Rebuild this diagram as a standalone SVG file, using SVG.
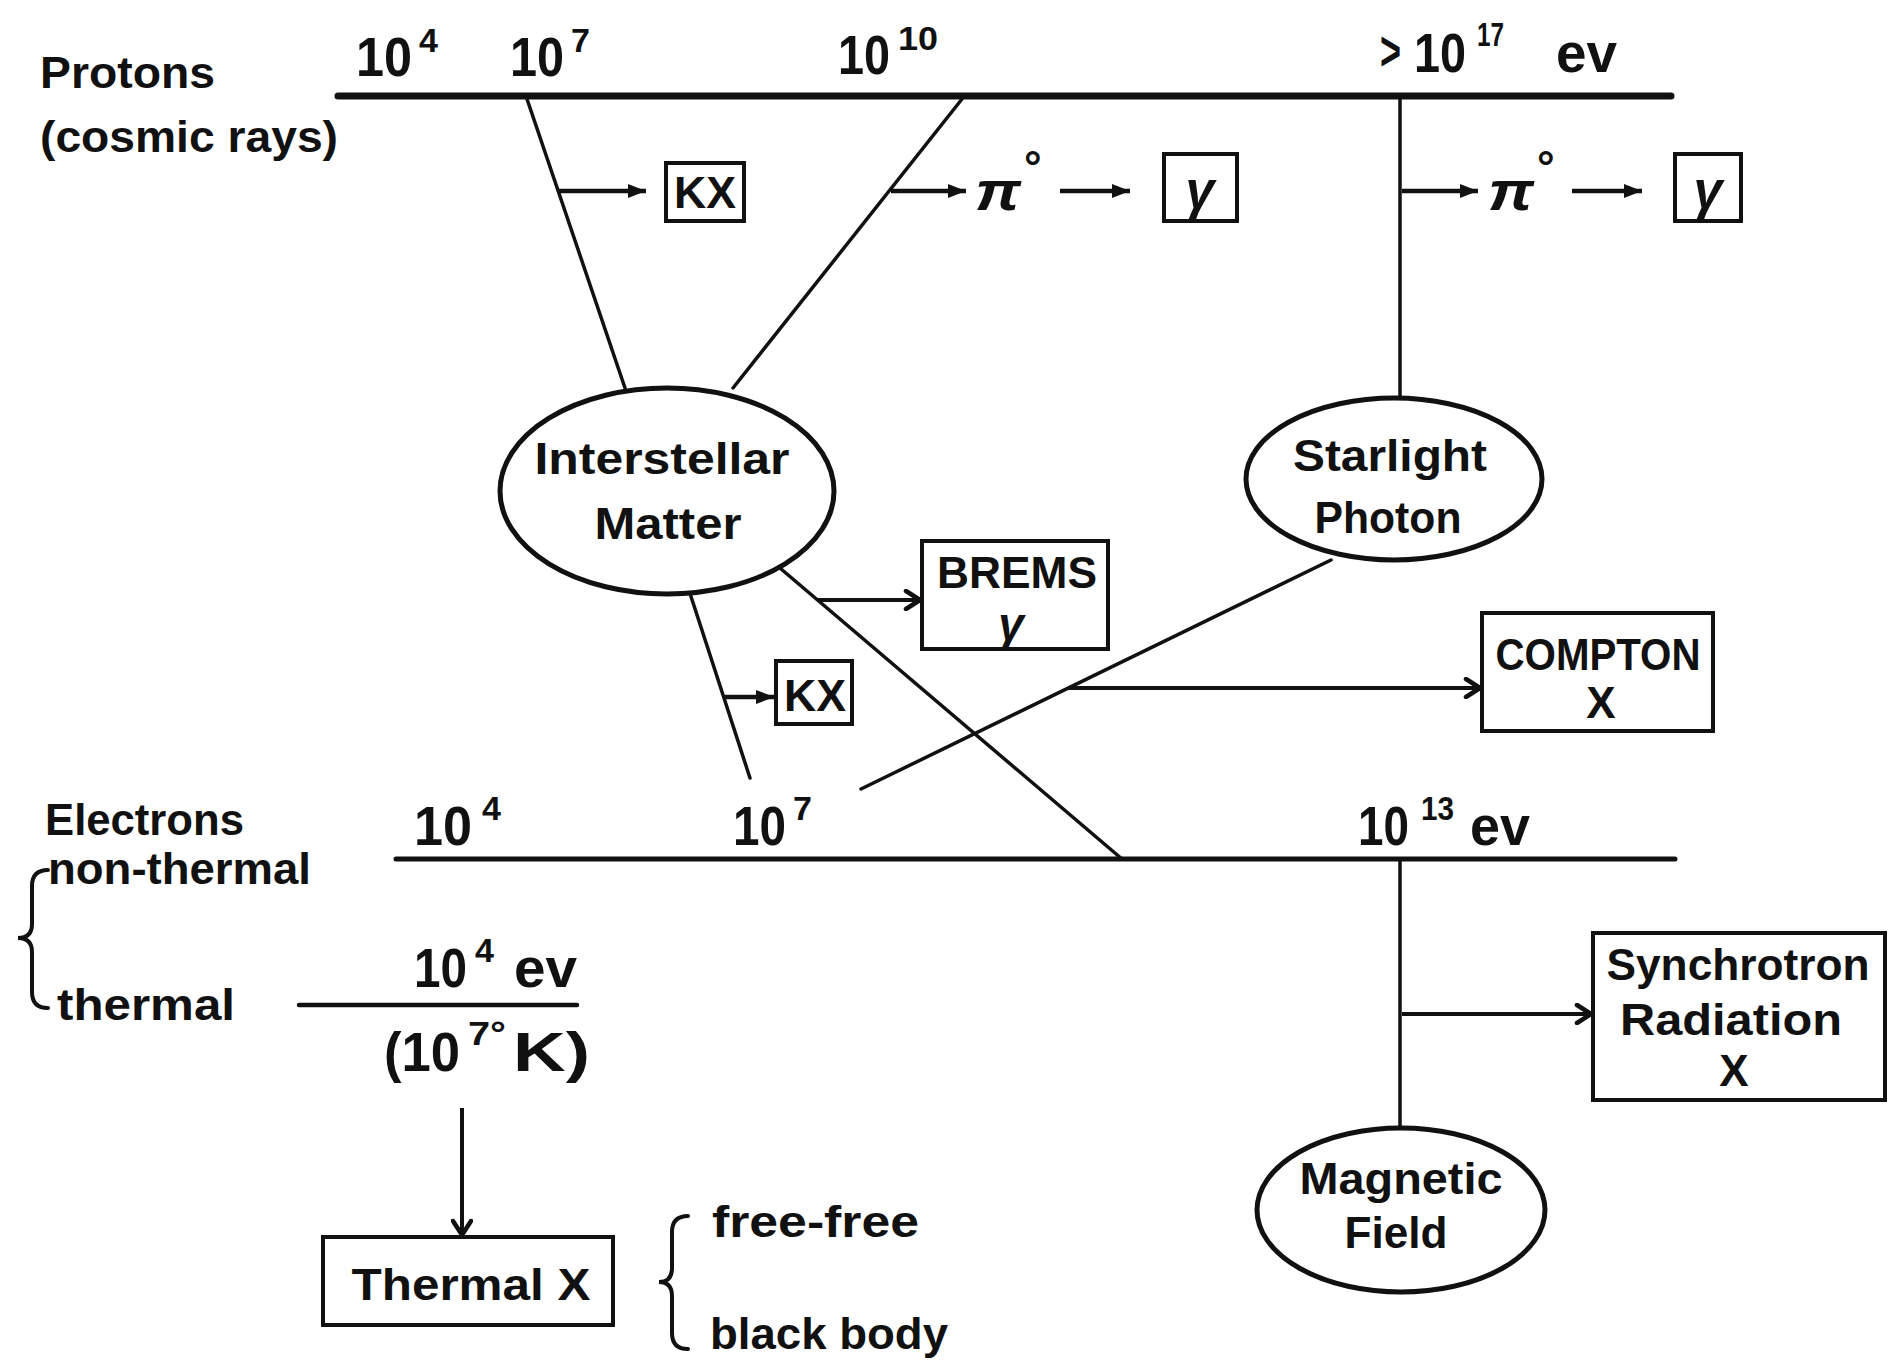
<svg xmlns="http://www.w3.org/2000/svg" width="1892" height="1371" viewBox="0 0 1892 1371">
<style>
  text { font-family: "Liberation Sans", Arial, sans-serif; fill: #111; }
  .lbl { font-weight: bold; font-size: 44px; }
  .num { font-weight: bold; font-size: 56px; }
  .sup { font-weight: bold; font-size: 34px; }
  .box { fill: #fff; stroke: #111; stroke-width: 4; }
  .ell { fill: #fff; stroke: #111; stroke-width: 5; }
  .ln { stroke: #111; stroke-width: 3.5; fill: none; stroke-linecap: round; }
  .axis { stroke: #111; fill: none; stroke-linecap: round; }
  .af { stroke: #111; stroke-width: 4.5; fill: none; marker-end: url(#fillhead); }
  .ao { stroke: #111; stroke-width: 4; fill: none; marker-end: url(#openhead); }
  .brace { stroke: #111; stroke-width: 4; fill: none; stroke-linecap: round; }
</style>
<defs>
  <marker id="fillhead" markerUnits="userSpaceOnUse" markerWidth="20" markerHeight="16" refX="18" refY="8" orient="auto">
    <path d="M0,1 L18,8 L0,15 z" fill="#111"/>
  </marker>
  <marker id="openhead" markerUnits="userSpaceOnUse" markerWidth="20" markerHeight="22" refX="17" refY="11" orient="auto">
    <path d="M3,2 L17,11 L3,20" fill="none" stroke="#111" stroke-width="4.5" stroke-linecap="round" stroke-linejoin="round"/>
  </marker>
</defs>
<rect width="1892" height="1371" fill="#fff"/>

<g id="connectors">
  <!-- energy axes -->
  <line class="axis" x1="338" y1="96" x2="1671" y2="96" stroke-width="7"/>
  <line class="axis" x1="396" y1="859" x2="1675" y2="859" stroke-width="5"/>
  <line class="axis" x1="299" y1="1005" x2="577" y2="1005" stroke-width="4.5"/>
  <!-- proton branches -->
  <line class="ln" x1="527" y1="99" x2="625" y2="388"/>
  <line class="ln" x1="962" y1="99" x2="733" y2="388"/>
  <line class="ln" x1="1400" y1="99" x2="1400" y2="399"/>
  <line class="af" x1="559" y1="191" x2="646" y2="191"/>
  <line class="af" x1="891" y1="191" x2="966" y2="191"/>
  <line class="af" x1="1060" y1="191" x2="1130" y2="191"/>
  <line class="af" x1="1402" y1="191" x2="1478" y2="191"/>
  <line class="af" x1="1572" y1="191" x2="1642" y2="191"/>
  <!-- interstellar to electrons -->
  <line class="ln" x1="685" y1="578" x2="750" y2="778"/>
  <line class="af" x1="724" y1="697" x2="774" y2="697"/>
  <line class="ln" x1="767" y1="557" x2="1122" y2="859"/>
  <line class="ao" x1="818" y1="600" x2="920" y2="600"/>
  <!-- starlight to electrons -->
  <line class="ln" x1="1331" y1="560" x2="861" y2="789"/>
  <line class="ao" x1="1068" y1="688" x2="1480" y2="688"/>
  <!-- magnetic field -->
  <line class="ln" x1="1400" y1="861" x2="1400" y2="1131"/>
  <line class="ao" x1="1402" y1="1014" x2="1591" y2="1014"/>
  <!-- thermal -->
  <line class="ao" x1="462" y1="1108" x2="462" y2="1235"/>
  <!-- braces -->
  <path class="brace" d="M48,870 Q32,870 32,886 L32,924 Q32,938 18,938 Q32,938 32,952 L32,992 Q32,1008 48,1008"/>
  <path class="brace" d="M688,1216 Q672,1216 672,1232 L672,1268 Q672,1282 659,1282 Q672,1282 672,1296 L672,1333 Q672,1349 688,1349"/>
</g>

<g id="axis-labels">
  <text class="lbl" x="40" y="88" textLength="175" lengthAdjust="spacingAndGlyphs">Protons</text>
  <text class="lbl" x="40" y="152" textLength="298" lengthAdjust="spacingAndGlyphs">(cosmic rays)</text>
  <text class="num" x="356" y="76" textLength="56" lengthAdjust="spacingAndGlyphs">10</text>
  <text class="sup" x="419" y="52">4</text>
  <text class="num" x="510" y="76" textLength="54" lengthAdjust="spacingAndGlyphs">10</text>
  <text class="sup" x="571" y="52">7</text>
  <text class="num" x="838" y="74" textLength="52" lengthAdjust="spacingAndGlyphs">10</text>
  <text class="sup" x="898" y="50" textLength="40" lengthAdjust="spacingAndGlyphs">10</text>
  <text class="num" x="1380" y="70" font-size="44" textLength="21" lengthAdjust="spacingAndGlyphs">&gt;</text>
  <text class="num" x="1414" y="72" font-size="52" textLength="52" lengthAdjust="spacingAndGlyphs">10</text>
  <text class="sup" x="1477" y="46" textLength="27" lengthAdjust="spacingAndGlyphs">17</text>
  <text class="num" x="1556" y="72" textLength="61" lengthAdjust="spacingAndGlyphs">ev</text>

  <text class="lbl" x="45" y="835" textLength="199" lengthAdjust="spacingAndGlyphs">Electrons</text>
  <text class="lbl" x="48" y="884" textLength="263" lengthAdjust="spacingAndGlyphs">non-thermal</text>
  <text class="lbl" x="57" y="1020" textLength="178" lengthAdjust="spacingAndGlyphs">thermal</text>
  <text class="num" x="414" y="845" textLength="58" lengthAdjust="spacingAndGlyphs">10</text>
  <text class="sup" x="482" y="820">4</text>
  <text class="num" x="733" y="845" textLength="53" lengthAdjust="spacingAndGlyphs">10</text>
  <text class="sup" x="793" y="820">7</text>
  <text class="num" x="1358" y="845" textLength="51" lengthAdjust="spacingAndGlyphs">10</text>
  <text class="sup" x="1421" y="820" textLength="33" lengthAdjust="spacingAndGlyphs">13</text>
  <text class="num" x="1470" y="845" textLength="60" lengthAdjust="spacingAndGlyphs">ev</text>

  <text class="num" x="414" y="987" textLength="53" lengthAdjust="spacingAndGlyphs">10</text>
  <text class="sup" x="475" y="962">4</text>
  <text class="num" x="514" y="987" textLength="63" lengthAdjust="spacingAndGlyphs">ev</text>
  <text class="num" x="384" y="1071" font-weight="normal" textLength="76" lengthAdjust="spacingAndGlyphs">(10</text>
  <text class="sup" x="468" y="1045" textLength="38" lengthAdjust="spacingAndGlyphs">7°</text>
  <text class="num" x="513" y="1071" font-weight="normal" textLength="77" lengthAdjust="spacingAndGlyphs">K)</text>

  <text class="lbl" x="712" y="1237" textLength="207" lengthAdjust="spacingAndGlyphs">free-free</text>
  <text class="lbl" x="710" y="1349" textLength="238" lengthAdjust="spacingAndGlyphs">black body</text>

  <text x="975" y="210" font-size="56" font-style="italic" font-weight="bold" textLength="46" lengthAdjust="spacingAndGlyphs">π</text>
  <text x="1024" y="182" font-size="44" font-weight="bold">°</text>
  <text x="1488" y="210" font-size="56" font-style="italic" font-weight="bold" textLength="46" lengthAdjust="spacingAndGlyphs">π</text>
  <text x="1537" y="182" font-size="44" font-weight="bold">°</text>
</g>

<g id="kx-top">
  <rect class="box" x="666" y="163" width="78" height="58"/>
  <text class="lbl" x="705" y="208" font-size="38" text-anchor="middle" textLength="62" lengthAdjust="spacingAndGlyphs">KX</text>
</g>
<g id="gamma-1">
  <rect class="box" x="1164" y="154" width="73" height="67"/>
  <text x="1200" y="208" font-size="52" font-style="italic" font-weight="bold" text-anchor="middle">γ</text>
</g>
<g id="gamma-2">
  <rect class="box" x="1675" y="154" width="66" height="67"/>
  <text x="1708" y="208" font-size="52" font-style="italic" font-weight="bold" text-anchor="middle">γ</text>
</g>

<g id="interstellar-matter">
  <ellipse class="ell" cx="667" cy="491" rx="167" ry="103"/>
  <text class="lbl" x="662" y="474" text-anchor="middle" textLength="255" lengthAdjust="spacingAndGlyphs">Interstellar</text>
  <text class="lbl" x="668" y="539" text-anchor="middle" textLength="147" lengthAdjust="spacingAndGlyphs">Matter</text>
</g>
<g id="starlight-photon">
  <ellipse class="ell" cx="1394" cy="479" rx="148" ry="81"/>
  <text class="lbl" x="1390" y="471" font-size="42" text-anchor="middle" textLength="194" lengthAdjust="spacingAndGlyphs">Starlight</text>
  <text class="lbl" x="1388" y="533" font-size="42" text-anchor="middle" textLength="147" lengthAdjust="spacingAndGlyphs">Photon</text>
</g>
<g id="brems">
  <rect class="box" x="922" y="541" width="186" height="108"/>
  <text class="lbl" x="1017" y="588" text-anchor="middle" textLength="160" lengthAdjust="spacingAndGlyphs">BREMS</text>
  <text x="1011" y="640" font-size="46" font-style="italic" font-weight="bold" text-anchor="middle">γ</text>
</g>
<g id="kx-low">
  <rect class="box" x="776" y="661" width="76" height="63"/>
  <text class="lbl" x="815" y="711" font-size="40" text-anchor="middle" textLength="62" lengthAdjust="spacingAndGlyphs">KX</text>
</g>
<g id="compton">
  <rect class="box" x="1482" y="613" width="231" height="118"/>
  <text class="lbl" x="1598" y="670" text-anchor="middle" textLength="205" lengthAdjust="spacingAndGlyphs">COMPTON</text>
  <text class="lbl" x="1601" y="718" text-anchor="middle">X</text>
</g>
<g id="synchrotron">
  <rect class="box" x="1593" y="933" width="292" height="167"/>
  <text class="lbl" x="1738" y="980" text-anchor="middle" textLength="263" lengthAdjust="spacingAndGlyphs">Synchrotron</text>
  <text class="lbl" x="1731" y="1035" text-anchor="middle" textLength="222" lengthAdjust="spacingAndGlyphs">Radiation</text>
  <text class="lbl" x="1734" y="1086" text-anchor="middle">X</text>
</g>
<g id="magnetic-field">
  <ellipse class="ell" cx="1401" cy="1210" rx="144" ry="82"/>
  <text class="lbl" x="1401" y="1194" font-size="40" text-anchor="middle" textLength="203" lengthAdjust="spacingAndGlyphs">Magnetic</text>
  <text class="lbl" x="1396" y="1248" font-size="42" text-anchor="middle" textLength="103" lengthAdjust="spacingAndGlyphs">Field</text>
</g>
<g id="thermal-x">
  <rect class="box" x="323" y="1237" width="290" height="88"/>
  <text class="lbl" x="471" y="1300" text-anchor="middle" textLength="239" lengthAdjust="spacingAndGlyphs">Thermal X</text>
</g>
</svg>
